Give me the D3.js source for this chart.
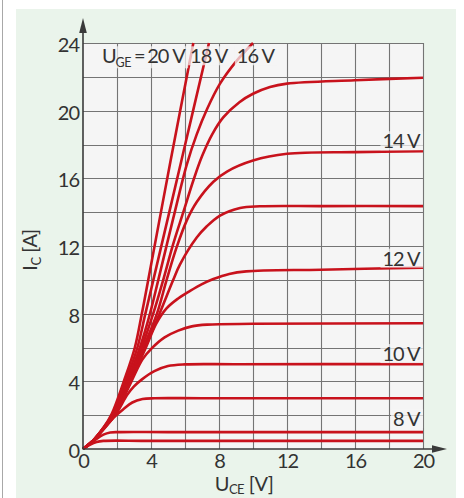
<!DOCTYPE html>
<html><head><meta charset="utf-8">
<script src="https://cdn.jsdelivr.net/npm/d3@7"></script>
<style>body{margin:0;background:#fff}svg{display:block}text{font-family:Lato,"Open Sans",sans-serif;fill:#333}</style>
</head><body><svg id="c" width="464" height="498"></svg>
<script>
// ---- data (U_CE [V], I_C [A]) ----
const xTicks = [0, 4, 8, 12, 16, 20];
const yTicks = [0, 4, 8, 12, 16, 20, 24];
const uge20 = [[0,0],[0.6,0.5],[1.2,1.25],[1.7,2.1],[2.4,4.0],[3.05,6.0],[3.46,8.0],[3.84,10],[5.16,17.08],[6.49,24]];
const uge18 = [[0,0],[0.6,0.5],[1.2,1.25],[1.75,2.1],[2.5,4.0],[3.2,6.0],[3.67,8.0],[4.14,10],[5.8,17.1],[7.41,24]];
const uge16 = [[0,0],[0.6,0.5],[1.2,1.22],[1.8,2.1],[2.6,4.0],[3.35,6.0],[3.94,8.0],[4.43,10],[5.3,13.6],[6.1,16.8],[6.69,18.6],[7.3,20.1],[8.06,21.6],[9.0,22.9],[10.0,24]];
const uge15 = [[0,0],[0.6,0.5],[1.2,1.2],[1.8,2.05],[2.65,4.0],[3.45,6.0],[4.13,8.0],[4.72,10],[5.3,12.1],[5.9,14.0],[6.5,15.9],[7.0,17.3],[7.6,18.6],[8.25,19.6],[9.2,20.5],[10,21.0],[11,21.4],[12,21.6],[16,21.8],[20,21.95]];
const uge14 = [[0,0],[0.6,0.5],[1.2,1.2],[1.8,2.0],[2.7,4.0],[3.55,6.0],[4.35,8.0],[4.92,10],[5.5,11.9],[6.1,13.5],[6.69,14.6],[7.67,15.8],[8.47,16.4],[10,17.05],[12,17.45],[16,17.55],[20,17.6]];
const uge13 = [[0,0],[0.6,0.5],[1.2,1.2],[1.8,2.0],[2.75,4.0],[3.65,6.0],[4.5,8.0],[5.31,10],[5.7,10.9],[6.69,12.5],[7.27,13.15],[8.06,13.8],[9.24,14.25],[10.4,14.35],[14,14.36],[20,14.36]];
const uge12 = [[0,0],[0.6,0.5],[1.2,1.2],[1.85,2.0],[2.8,4.0],[3.7,6.0],[4.3,7.4],[4.9,8.3],[5.6,8.9],[6.3,9.35],[7.0,9.75],[7.67,10.05],[8.6,10.35],[9.6,10.5],[14,10.6],[20,10.72]];
const uge11 = [[0,0],[0.6,0.5],[1.2,1.2],[1.85,2.0],[2.85,4.0],[3.5,5.3],[4.04,5.95],[4.8,6.6],[5.6,7.0],[6.4,7.25],[7.3,7.35],[10,7.4],[20,7.43]];
const uge10 = [[0,0],[0.6,0.5],[1.2,1.2],[1.9,2.0],[2.6,3.2],[3.0,3.7],[3.45,4.1],[4.2,4.6],[5.0,4.9],[6,5.0],[9,5.01],[20,5.02]];
const uge9  = [[0,0],[0.6,0.5],[1.2,1.15],[1.8,1.85],[2.37,2.35],[2.9,2.75],[3.5,2.95],[4.2,3.0],[7,3.0],[20,3.0]];
const uge8  = [[0,0],[0.6,0.45],[1.2,0.85],[1.6,0.98],[2.2,1.0],[5,1.0],[20,1.0]];
const uge7  = [[0,0],[0.4,0.25],[0.8,0.42],[1.2,0.48],[4,0.48],[20,0.48]];
const allCurves = [uge20, uge18, uge16, uge15, uge14, uge13, uge12, uge11, uge10, uge9, uge8, uge7];
const sideLabels = ["14 V", "12 V", "10 V", "8 V"];
const sideLabelCurves = [uge14, uge12, uge10, uge8];
const topLabels = ["20 V", "18 V", "16 V"];

// ---- drawing ----
const svg = d3.select("#c");
const x = d3.scaleLinear().domain([0, 20]).range([83, 423]);
const y = d3.scaleLinear().domain([0, 24]).range([449, 43]);
const red = "#c8121c";

svg.append("rect").attr("x", 16).attr("y", 9).attr("width", 440).attr("height", 489).attr("fill", "#eaf4eb");
svg.append("line").attr("x1", 2.5).attr("x2", 2.5).attr("y1", 0).attr("y2", 498).attr("stroke", "#a8a8a8").attr("stroke-width", 1);
svg.append("rect").attr("x", x(0)).attr("y", y(24)).attr("width", x(20) - x(0)).attr("height", y(0) - y(24)).attr("fill", "#f5f5f5");

const grid = svg.append("g").attr("stroke", "#747474").attr("stroke-width", 1.1);
d3.range(2, 21, 2).forEach(v => grid.append("line").attr("x1", Math.round(x(v)) + 0.5).attr("x2", Math.round(x(v)) + 0.5).attr("y1", y(0)).attr("y2", y(24)));
d3.range(2, 25, 2).forEach(v => grid.append("line").attr("y1", Math.round(y(v)) + 0.5).attr("y2", Math.round(y(v)) + 0.5).attr("x1", x(0)).attr("x2", x(20)));

const line = d3.line().x(d => x(d[0])).y(d => y(d[1])).curve(d3.curveCatmullRom.alpha(0.5));
svg.append("g").selectAll("path").data(allCurves).join("path")
  .attr("d", line).attr("fill", "none").attr("stroke", red).attr("stroke-width", 2.6).attr("stroke-linejoin", "round");

// axes
const ax = svg.append("g");
ax.append("line").attr("x1", x(0)).attr("x2", x(0)).attr("y1", y(0) + 0.5).attr("y2", 30).attr("stroke", "#3a3a3a").attr("stroke-width", 1.6);
ax.append("line").attr("x1", x(0)).attr("x2", 436).attr("y1", y(0)).attr("y2", y(0)).attr("stroke", "#3a3a3a").attr("stroke-width", 1.6);
ax.append("path").attr("d", `M${x(0)},18 L${x(0) - 3.8},33 L${x(0) + 3.8},33 Z`).attr("fill", "#3a3a3a");
ax.append("path").attr("d", `M447,${y(0)} L432,${y(0) - 3.8} L432,${y(0) + 3.8} Z`).attr("fill", "#3a3a3a");

const yAxis = svg.append("g").attr("transform", `translate(${x(0) - 4},2)`)
  .call(d3.axisLeft(y).tickValues(yTicks).tickSize(0).tickPadding(0));
yAxis.select(".domain").remove();
yAxis.selectAll("text").style("font-family", "Lato").attr("font-size", 20).attr("fill", "#333").style("letter-spacing", "-1px");

const xAxis = svg.append("g").attr("transform", `translate(0,${y(0) + 5})`)
  .call(d3.axisBottom(x).tickValues(xTicks).tickSize(0).tickPadding(0));
xAxis.select(".domain").remove();
xAxis.selectAll("text").style("font-family", "Lato").attr("font-size", 20).attr("fill", "#333").style("letter-spacing", "-1px");

// labels with translucent backgrounds
function boxed(g, node) {
  const b = node.getBBox();
  g.insert("rect", "text").attr("x", b.x - 2).attr("y", b.y + 3).attr("width", b.width + 4).attr("height", b.height - 5)
    .attr("fill", "#f5f5f5").attr("opacity", 0.72);
}
const lab = svg.append("g").attr("font-size", 20).style("letter-spacing", "-1px");
const topY = y(22.8);
// U_GE = 20 V
const t0 = lab.append("g");
const tt = t0.append("text").attr("x", x(1.12)).attr("y", topY).style("letter-spacing", "-1.2px");
const parts = topLabels[0].split(" ");
tt.append("tspan").text("U");
tt.append("tspan").attr("font-size", 12.5).attr("dy", 4).style("letter-spacing", "-0.5px").text("GE");
tt.append("tspan").attr("dy", -4).attr("dx", 3).text("=");
tt.append("tspan").attr("dx", 3).text(parts[0]);
tt.append("tspan").attr("dx", 4).text(parts[1]);
boxed(t0, tt.node());
[[topLabels[1], 6.3], [topLabels[2], 9.05]].forEach(([s, v]) => {
  const g = lab.append("g");
  const t = g.append("text").attr("x", x(v)).attr("y", topY).text(s);
  boxed(g, t.node());
});
const sideOffsets = [3, 2, 3, 6];
sideLabels.forEach((s, i) => {
  const c = sideLabelCurves[i];
  const g = lab.append("g");
  const t = g.append("text").attr("x", x(19.8)).attr("y", y(c[c.length - 1][1]) - sideOffsets[i]).attr("text-anchor", "end").text(s);
  boxed(g, t.node());
});

// axis titles
const yt = svg.append("text").attr("transform", `translate(37,250) rotate(-90)`).attr("text-anchor", "middle").attr("font-size", 20).style("letter-spacing", "-0.5px");
yt.append("tspan").text("I");
yt.append("tspan").attr("font-size", 13).attr("dy", 4).text("C");
yt.append("tspan").attr("dy", -4).text(" [A]");
const xt = svg.append("text").attr("x", 244).attr("y", 491).attr("text-anchor", "middle").attr("font-size", 20).style("letter-spacing", "-0.5px");
xt.append("tspan").text("U");
xt.append("tspan").attr("font-size", 13).attr("dy", 3).text("CE");
xt.append("tspan").attr("dy", -3).text(" [V]");
</script></body></html>
